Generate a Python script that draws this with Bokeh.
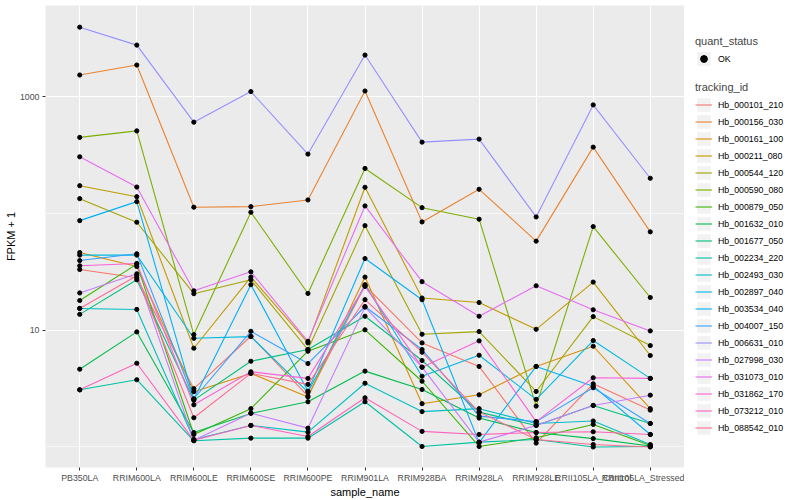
from bokeh.plotting import figure
from bokeh.layouts import row
from bokeh.models import (FactorRange, Range1d, FixedTicker, Legend, LegendItem,
                          BasicTickFormatter)
from bokeh.embed import file_html
from bokeh.resources import INLINE

samples = ["PB350LA", "RRIM600LA", "RRIM600LE", "RRIM600SE", "RRIM600PE", "RRIM901LA",
           "RRIM928BA", "RRIM928LA", "RRIM928LE", "RRII105LA_Control", "RRII105LA_Stressed"]

tracking_ids = ["Hb_000101_210", "Hb_000156_030", "Hb_000161_100", "Hb_000211_080",
                "Hb_000544_120", "Hb_000590_080", "Hb_000879_050", "Hb_001632_010",
                "Hb_001677_050", "Hb_002234_220", "Hb_002493_030", "Hb_002897_040",
                "Hb_003534_040", "Hb_004007_150", "Hb_006631_010", "Hb_027998_030",
                "Hb_031073_010", "Hb_031862_170", "Hb_073212_010", "Hb_088542_010"]

colors = ["#F8766D", "#EA8331", "#D89000", "#C09B00", "#A3A500", "#7CAE00", "#39B600",
          "#00BB4E", "#00BF7D", "#00C1A3", "#00BFC4", "#00BAE0", "#00B0F6", "#35A2FF",
          "#9590FF", "#C77CFF", "#E76BF3", "#FA62DB", "#FF62BC", "#FF6C91"]

# FPKM + 1 per sample, one list per tracking_id
Hb_000101_210 = [33.2, 28.2, 3.16, 8.89, 2.73, 24.1, 7.80, 4.90, 1.08, 3.48, 2.07]
Hb_000156_030 = [1542, 1878, 113.5, 114.8, 131, 1125, 84.9, 161.7, 58.1, 371.5, 69.8]
Hb_000161_100 = [46.4, 35.2, 2.98, 4.27, 2.68, 28.6, 2.35, 2.80, 4.90, 7.30, 2.13]
Hb_000211_080 = [173.5, 139.7, 7.02, 28.6, 7.80, 168.2, 18.9, 17.3, 10.2, 25.9, 6.08]
Hb_000544_120 = [134.4, 84.4, 20.6, 27.1, 6.84, 78.9, 9.25, 9.75, 2.99, 13.1, 7.40]
Hb_000590_080 = [450, 512, 9.19, 102.8, 20.7, 244, 112.5, 89.6, 2.24, 77.4, 19.1]
Hb_000879_050 = [18.0, 36.9, 1.28, 2.13, 6.62, 10.1, 3.66, 1.01, 1.20, 1.56, 1.03]
Hb_001632_010 = [4.64, 9.69, 1.33, 1.94, 2.44, 4.47, 3.11, 1.77, 1.33, 1.18, 1.02]
Hb_001677_050 = [13.7, 27.1, 2.52, 5.43, 6.84, 13.2, 5.51, 1.99, 1.53, 2.27, 1.59]
Hb_002234_220 = [3.09, 3.77, 1.13, 1.19, 1.19, 2.44, 1.01, 1.10, 1.16, 1.00, 1.01]
Hb_002493_030 = [15.4, 15.1, 1.16, 1.53, 1.34, 3.52, 2.01, 2.13, 1.59, 1.67, 1.05]
Hb_002897_040 = [44.1, 44.1, 8.54, 8.83, 2.95, 24.6, 4.04, 6.11, 2.56, 8.17, 3.87]
Hb_003534_040 = [87.1, 126.7, 2.56, 24.6, 3.01, 41.2, 18.3, 1.09, 4.90, 3.32, 1.28]
Hb_004007_150 = [39.6, 45.3, 2.59, 9.80, 5.19, 16.0, 6.84, 1.84, 1.65, 3.22, 1.59]
Hb_006631_010 = [3963, 2782, 608, 1112, 324, 2286, 410, 435, 93.7, 855, 201]
Hb_027998_030 = [20.9, 30.5, 1.14, 1.95, 1.45, 15.8, 4.83, 1.10, 1.53, 2.27, 2.78]
Hb_031073_010 = [307, 169, 21.8, 31.7, 8.05, 116.4, 26.1, 13.2, 24.1, 15.0, 9.88]
Hb_031862_170 = [35.7, 37.4, 2.30, 4.41, 3.87, 23.8, 4.83, 8.12, 1.65, 3.92, 3.87]
Hb_073212_010 = [3.09, 5.22, 1.14, 1.53, 1.23, 2.64, 1.36, 1.28, 1.33, 1.35, 1.28]
Hb_088542_010 = [15.4, 29.4, 1.78, 4.27, 3.44, 18.3, 6.49, 1.99, 1.16, 1.05, 1.00]

series = [Hb_000101_210, Hb_000156_030, Hb_000161_100, Hb_000211_080, Hb_000544_120,
          Hb_000590_080, Hb_000879_050, Hb_001632_010, Hb_001677_050, Hb_002234_220,
          Hb_002493_030, Hb_002897_040, Hb_003534_040, Hb_004007_150, Hb_006631_010,
          Hb_027998_030, Hb_031073_010, Hb_031862_170, Hb_073212_010, Hb_088542_010]

y_ticks = [10, 1000]
y_minor = [1, 100, 10000]

FONT = "Liberation Sans"

p = figure(x_range=FactorRange(factors=samples, range_padding=0.1, range_padding_units="absolute"),
           y_range=Range1d(0.667, 6080), y_axis_type="log",
           frame_width=639, frame_height=462,
           min_border_left=45, min_border_right=0, min_border_top=5, min_border_bottom=30,
           output_backend="svg", toolbar_location=None)

p.background_fill_color = "#EBEBEB"
p.border_fill_color = "white"
p.outline_line_color = None

p.yaxis.ticker = FixedTicker(ticks=y_ticks, minor_ticks=y_minor)
p.yaxis.formatter = BasicTickFormatter()
for ax in (p.xaxis[0], p.yaxis[0]):
    ax.axis_line_color = None
    ax.major_tick_line_color = "#333333"
    ax.major_tick_out = 3
    ax.major_tick_in = 0
    ax.minor_tick_line_color = None
    ax.major_label_text_font = FONT
    ax.major_label_text_font_size = "8.8px"
    ax.major_label_text_color = "#4D4D4D"
    ax.major_label_standoff = 2
    ax.axis_label_text_font = FONT
    ax.axis_label_text_font_size = "11px"
    ax.axis_label_text_font_style = "normal"
    ax.axis_label_text_color = "black"
    ax.axis_label_standoff = 0
p.xaxis.axis_label = "sample_name"
p.yaxis.axis_label = "FPKM + 1"

p.xgrid.grid_line_color = "white"
p.xgrid.grid_line_width = 1.1
p.ygrid.grid_line_color = "white"
p.ygrid.grid_line_width = 1.1
p.ygrid.minor_grid_line_color = "white"
p.ygrid.minor_grid_line_width = 0.55

for vals, col in zip(series, colors):
    p.line(x=samples, y=vals, line_color=col, line_width=1.1)

all_x = [s for vals in series for s in samples]
all_y = [v for vals in series for v in vals]
p.scatter(x=all_x, y=all_y, size=4.2, color="black")

# ---- legend panel (separate figure to the right) ----
lg = figure(width=112, height=500, x_range=Range1d(0, 1), y_range=Range1d(0, 1),
            x_axis_location=None, y_axis_location=None,
            min_border=0, output_backend="svg", toolbar_location=None)
lg.grid.visible = False
lg.outline_line_color = None
lg.background_fill_color = "white"
lg.border_fill_color = "white"

# off-range glyphs: only their legend keys are visible
key_bg = lg.quad(left=[5], right=[6], bottom=[5], top=[6], fill_color="#F2F2F2", line_color=None)
key_pt = lg.scatter(x=[5], y=[5], size=4, color="black")
key_lines = [lg.line(x=[5, 6], y=[5, 6], line_color=c, line_width=1.1) for c in colors]


def style_legend(leg):
    leg.title_text_font = FONT
    leg.title_text_font_size = "11px"
    leg.title_text_font_style = "normal"
    leg.title_standoff = 3
    leg.label_text_font = FONT
    leg.label_text_font_size = "8.8px"
    leg.label_text_color = "black"
    leg.glyph_width = 17
    leg.glyph_height = 17
    leg.label_height = 17
    leg.label_standoff = 6
    leg.spacing = 0
    leg.padding = 0
    leg.margin = 0
    leg.border_line_alpha = 0
    leg.background_fill_alpha = 0


leg_q = Legend(items=[LegendItem(label="OK", renderers=[key_bg, key_pt])],
               title="quant_status", location=(11, 400))
leg_t = Legend(items=[LegendItem(label=t, renderers=[key_bg, r])
                      for t, r in zip(tracking_ids, key_lines)],
               title="tracking_id", location=(11, 31))
style_legend(leg_q)
style_legend(leg_t)
lg.add_layout(leg_q)
lg.add_layout(leg_t)

layout = row(p, lg)
open("out.html", "w").write(file_html(layout, INLINE))
